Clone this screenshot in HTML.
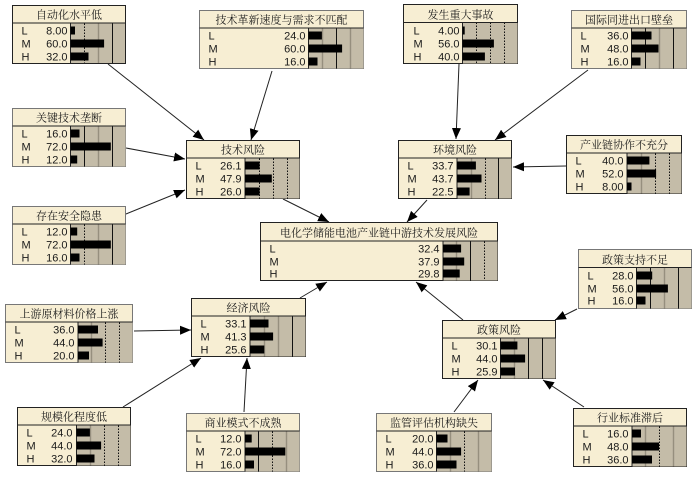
<!DOCTYPE html>
<html>
<head>
<meta charset="utf-8">
<style>
html,body{margin:0;padding:0;background:#fff;width:700px;height:479px;overflow:hidden}
svg{display:block}
.b{fill:#f7eed3;stroke:#222;stroke-width:1}
.f{stroke:#777}
.r{fill:#c4bca8}
.h{stroke:#222;stroke-width:1;fill:none}
.s{stroke:#111;stroke-width:1}
.d{stroke:#111;stroke-width:1;stroke-dasharray:1.5 1.5}
.g{stroke:#968f7e;stroke-width:1.4}
.k{fill:#000}
text{font-family:"Liberation Sans","Noto Sans CJK SC",sans-serif;font-size:11px;fill:#1a1a1a}
.t{text-anchor:middle;font-size:11px;font-family:"Liberation Serif","Noto Serif CJK SC",serif}
.n{text-anchor:end}
.a{stroke:#222;stroke-width:1;fill:none;marker-end:url(#ar)}
</style>
</head>
<body>
<svg width="700" height="479" viewBox="0 0 700 479" xmlns="http://www.w3.org/2000/svg">
<defs>
<marker id="ar" markerUnits="userSpaceOnUse" markerWidth="12" markerHeight="10" refX="11" refY="5" orient="auto">
<path d="M0 0.5L11 5L0 9.5Z" fill="#000"/>
</marker>
</defs>

<path class="a" d="M108 64L204 140"/>
<path class="a" d="M272 71L251 140"/>
<path class="a" d="M126 148L185 159"/>
<path class="a" d="M126 214L185 190"/>
<path class="a" d="M283 199L329 222"/>
<path class="a" d="M427 200L407 222"/>
<path class="a" d="M459 64L456 139"/>
<path class="a" d="M588 70L495 140"/>
<path class="a" d="M566 166L513 167"/>
<path class="a" d="M300 298L327 282"/>
<path class="a" d="M463 320L416 282"/>
<path class="a" d="M577 309L555 320"/>
<path class="a" d="M454 412L478 380"/>
<path class="a" d="M584 407L543 380"/>
<path class="a" d="M134 331L191 330"/>
<path class="a" d="M123 407L201 358"/>
<path class="a" d="M244 412L247 358"/>

<!-- 自动化水平低 -->
<g transform="translate(12.5,5.5)">
<rect class="b" width="113" height="58"/><rect class="r" x="58" y="18" width="55" height="40"/>
<path class="d" d="M72 18V58"/><path class="g" d="M86 18V58"/><path class="s" d="M100 18V58"/>
<path class="h" d="M0 17.5H113M58 18V58"/><rect class="b" style="fill:none" width="113" height="58"/>
<rect class="k" x="58" y="21" width="4.5" height="8"/><rect class="k" x="58" y="34" width="33.6" height="8"/><rect class="k" x="58" y="47" width="18" height="8"/>
<text class="t" x="56.5" y="13">自动化水平低</text>
<text x="9" y="29">L</text><text x="9" y="42">M</text><text x="9" y="55">H</text>
<text class="n" x="55" y="29">8.00</text><text class="n" x="55" y="42">60.0</text><text class="n" x="55" y="55">32.0</text>
</g>

<!-- 技术革新速度与需求不匹配 -->
<g transform="translate(199.5,10.5)">
<rect class="b f" width="164" height="58"/><rect class="r" x="109" y="18" width="55" height="40"/>
<path class="g" d="M123 18V58"/><path class="s" d="M137 18V58"/><path class="g" d="M151 18V58"/>
<path class="h" d="M0 17.5H164M109 18V58"/>
<rect class="k" x="109" y="21" width="13.4" height="8"/><rect class="k" x="109" y="34" width="33.6" height="8"/><rect class="k" x="109" y="47" width="9" height="8"/>
<text class="t" x="82" y="13">技术革新速度与需求不匹配</text>
<text x="9" y="29">L</text><text x="9" y="42">M</text><text x="9" y="55">H</text>
<text class="n" x="106" y="29">24.0</text><text class="n" x="106" y="42">60.0</text><text class="n" x="106" y="55">16.0</text>
</g>

<!-- 发生重大事故 -->
<g transform="translate(403.5,4.5)">
<rect class="b" width="114" height="59"/><rect class="r" x="59" y="18" width="55" height="41"/>
<path class="d" d="M73 18V59"/><path class="d" d="M87 18V59"/><path class="d" d="M101 18V59"/>
<path class="h" d="M0 18H114M59 18V59"/>
<rect class="k" x="59" y="22" width="2.2" height="8"/><rect class="k" x="59" y="35" width="31.4" height="8"/><rect class="k" x="59" y="48" width="22.4" height="8"/>
<text class="t" x="57" y="14">发生重大事故</text>
<text x="10" y="30">L</text><text x="10" y="43">M</text><text x="10" y="56">H</text>
<text class="n" x="56" y="30">4.00</text><text class="n" x="56" y="43">56.0</text><text class="n" x="56" y="56">40.0</text>
</g>

<!-- 国际同进出口壁垒 -->
<g transform="translate(571.5,10.5)">
<rect class="b f" width="115" height="58"/><rect class="r" x="60" y="18" width="55" height="40"/>
<path class="s" d="M74 18V58"/><path class="g" d="M88 18V58"/><path class="s" d="M102 18V58"/>
<path class="h" d="M0 17.5H115M60 18V58"/>
<rect class="k" x="60" y="21" width="20" height="8"/><rect class="k" x="60" y="34" width="27" height="8"/><rect class="k" x="60" y="47" width="9" height="8"/>
<text class="t" x="57.5" y="13">国际同进出口壁垒</text>
<text x="9" y="29">L</text><text x="9" y="42">M</text><text x="9" y="55">H</text>
<text class="n" x="57" y="29">36.0</text><text class="n" x="57" y="42">48.0</text><text class="n" x="57" y="55">16.0</text>
</g>

<!-- 关键技术垄断 -->
<g transform="translate(12.5,108.5)">
<rect class="b f" width="113" height="58"/><rect class="r" x="58" y="18" width="55" height="40"/>
<path class="s" d="M72 18V58"/><path class="g" d="M86 18V58"/><path class="s" d="M100 18V58"/>
<path class="h" d="M0 17.5H113M58 18V58"/>
<rect class="k" x="58" y="21" width="9" height="8"/><rect class="k" x="58" y="34" width="40.3" height="8"/><rect class="k" x="58" y="47" width="6.7" height="8"/>
<text class="t" x="56.5" y="13">关键技术垄断</text>
<text x="9" y="29">L</text><text x="9" y="42">M</text><text x="9" y="55">H</text>
<text class="n" x="55" y="29">16.0</text><text class="n" x="55" y="42">72.0</text><text class="n" x="55" y="55">12.0</text>
</g>

<!-- 技术风险 -->
<g transform="translate(186.5,140.5)">
<rect class="b" width="113" height="58"/><rect class="r" x="58.5" y="18" width="54.5" height="40"/>
<path class="d" d="M73 18V58"/><path class="d" d="M87 18V58"/><path class="d" d="M101 18V58"/>
<path class="h" d="M0 17.5H113M58.5 18V58"/>
<rect class="k" x="58.5" y="21" width="14.6" height="8"/><rect class="k" x="58.5" y="34" width="26.8" height="8"/><rect class="k" x="58.5" y="47" width="14.6" height="8"/>
<text class="t" x="56.5" y="13">技术风险</text>
<text x="9" y="29">L</text><text x="9" y="42">M</text><text x="9" y="55">H</text>
<text class="n" x="55" y="29">26.1</text><text class="n" x="55" y="42">47.9</text><text class="n" x="55" y="55">26.0</text>
</g>

<!-- 环境风险 -->
<g transform="translate(398.5,140.5)">
<rect class="b" width="113" height="58"/><rect class="r" x="58.5" y="18" width="54.5" height="40"/>
<path class="g" d="M73 18V58"/><path class="d" d="M87 18V58"/><path class="s" d="M100 18V58"/>
<path class="h" d="M0 17.5H113M58.5 18V58"/>
<rect class="k" x="58.5" y="21" width="18.9" height="8"/><rect class="k" x="58.5" y="34" width="24.5" height="8"/><rect class="k" x="58.5" y="47" width="12.6" height="8"/>
<text class="t" x="56.5" y="13">环境风险</text>
<text x="9" y="29">L</text><text x="9" y="42">M</text><text x="9" y="55">H</text>
<text class="n" x="55" y="29">33.7</text><text class="n" x="55" y="42">43.7</text><text class="n" x="55" y="55">22.5</text>
</g>

<!-- 产业链协作不充分 -->
<g transform="translate(566.5,135.5)">
<rect class="b" width="115" height="58"/><rect class="r" x="60.5" y="18" width="54.5" height="40"/>
<path class="g" d="M75 18V58"/><path class="d" d="M89 18V58"/><path class="d" d="M103 18V58"/>
<path class="h" d="M0 17.5H115M60.5 18V58"/>
<rect class="k" x="60.5" y="21" width="22.4" height="8"/><rect class="k" x="60.5" y="34" width="29.1" height="8"/><rect class="k" x="60.5" y="47" width="4.5" height="8"/>
<text class="t" x="57.5" y="13">产业链协作不充分</text>
<text x="9" y="29">L</text><text x="9" y="42">M</text><text x="9" y="55">H</text>
<text class="n" x="57" y="29">40.0</text><text class="n" x="57" y="42">52.0</text><text class="n" x="57" y="55">8.00</text>
</g>

<!-- 存在安全隐患 -->
<g transform="translate(12.5,206.5)">
<rect class="b f" width="113" height="58"/><rect class="r" x="58" y="18" width="55" height="40"/>
<path class="d" d="M72 18V58"/><path class="g" d="M86 18V58"/><path class="s" d="M100 18V58"/>
<path class="h" d="M0 17.5H113M58 18V58"/>
<rect class="k" x="58" y="21" width="6.7" height="8"/><rect class="k" x="58" y="34" width="40.3" height="8"/><rect class="k" x="58" y="47" width="9" height="8"/>
<text class="t" x="56.5" y="13">存在安全隐患</text>
<text x="9" y="29">L</text><text x="9" y="42">M</text><text x="9" y="55">H</text>
<text class="n" x="55" y="29">12.0</text><text class="n" x="55" y="42">72.0</text><text class="n" x="55" y="55">16.0</text>
</g>

<!-- 电化学储能电池产业链中游技术发展风险 -->
<g transform="translate(260.5,222.5)">
<rect class="b" width="237" height="58"/><rect class="r" x="182.5" y="19" width="54.5" height="39"/>
<path class="g" d="M196 19V58"/><path class="s" d="M210 19V58"/><path class="d" d="M224 19V58"/>
<path class="h" d="M0 18.5H237M182.5 19V58"/>
<rect class="k" x="182.5" y="22" width="18.1" height="8"/><rect class="k" x="182.5" y="35" width="21.2" height="8"/><rect class="k" x="182.5" y="47" width="16.7" height="8"/>
<text class="t" x="118.5" y="14">电化学储能电池产业链中游技术发展风险</text>
<text x="9" y="30">L</text><text x="9" y="43">M</text><text x="9" y="55">H</text>
<text class="n" x="179" y="30">32.4</text><text class="n" x="179" y="43">37.9</text><text class="n" x="179" y="55">29.8</text>
</g>

<!-- 政策支持不足 -->
<g transform="translate(578.5,249.5)">
<rect class="b f" width="113" height="59"/><rect class="r" x="58" y="18" width="55" height="41"/>
<path class="s" d="M72 18V59"/><path class="g" d="M86 18V59"/><path class="s" d="M100 18V59"/>
<path class="h" d="M0 18H113M58 18V59"/>
<rect class="k" x="58" y="22" width="15.7" height="8"/><rect class="k" x="58" y="35" width="31.4" height="8"/><rect class="k" x="58" y="47" width="9" height="8"/>
<text class="t" x="56.5" y="14">政策支持不足</text>
<text x="9" y="30">L</text><text x="9" y="43">M</text><text x="9" y="55">H</text>
<text class="n" x="55" y="30">28.0</text><text class="n" x="55" y="43">56.0</text><text class="n" x="55" y="55">16.0</text>
</g>

<!-- 上游原材料价格上涨 -->
<g transform="translate(5.5,304.5)">
<rect class="b f" width="127" height="58"/><rect class="r" x="72.5" y="18" width="54.5" height="40"/>
<path class="g" d="M86 18V58"/><path class="d" d="M100 18V58"/><path class="d" d="M114 18V58"/>
<path class="h" d="M0 17.5H127M72.5 18V58"/>
<rect class="k" x="72.5" y="21" width="20" height="8"/><rect class="k" x="72.5" y="34" width="24.6" height="8"/><rect class="k" x="72.5" y="47" width="11" height="8"/>
<text class="t" x="63.5" y="13">上游原材料价格上涨</text>
<text x="9" y="29">L</text><text x="9" y="42">M</text><text x="9" y="55">H</text>
<text class="n" x="69" y="29">36.0</text><text class="n" x="69" y="42">44.0</text><text class="n" x="69" y="55">20.0</text>
</g>

<!-- 经济风险 -->
<g transform="translate(191.5,298.5)">
<rect class="b" width="114" height="58"/><rect class="r" x="58.5" y="18" width="55.5" height="40"/>
<path class="g" d="M73 18V58"/><path class="g" d="M87 18V58"/><path class="s" d="M101 18V58"/>
<path class="h" d="M0 17.5H114M58.5 18V58"/>
<rect class="k" x="58.5" y="21" width="18.5" height="8"/><rect class="k" x="58.5" y="34" width="23.1" height="8"/><rect class="k" x="58.5" y="47" width="14.3" height="8"/>
<text class="t" x="57" y="13">经济风险</text>
<text x="9" y="29">L</text><text x="9" y="42">M</text><text x="9" y="55">H</text>
<text class="n" x="55" y="29">33.1</text><text class="n" x="55" y="42">41.3</text><text class="n" x="55" y="55">25.6</text>
</g>

<!-- 政策风险 -->
<g transform="translate(442.5,320.5)">
<rect class="b" width="113" height="58"/><rect class="r" x="58" y="18" width="55" height="40"/>
<path class="g" d="M72 18V58"/><path class="s" d="M86 18V58"/><path class="s" d="M100 18V58"/>
<path class="h" d="M0 17.5H113M58 18V58"/>
<rect class="k" x="58" y="21" width="16.9" height="8"/><rect class="k" x="58" y="34" width="24.6" height="8"/><rect class="k" x="58" y="47" width="14.5" height="8"/>
<text class="t" x="56.5" y="13">政策风险</text>
<text x="9" y="29">L</text><text x="9" y="42">M</text><text x="9" y="55">H</text>
<text class="n" x="55" y="29">30.1</text><text class="n" x="55" y="42">44.0</text><text class="n" x="55" y="55">25.9</text>
</g>

<!-- 规模化程度低 -->
<g transform="translate(17.5,407.5)">
<rect class="b" width="113" height="58"/><rect class="r" x="59" y="18" width="54" height="40"/>
<path class="g" d="M73 18V58"/><path class="d" d="M87 18V58"/><path class="d" d="M101 18V58"/>
<path class="h" d="M0 17.5H113M59 18V58"/>
<rect class="k" x="59" y="21" width="13.4" height="8"/><rect class="k" x="59" y="34" width="24.6" height="8"/><rect class="k" x="59" y="47" width="18" height="8"/>
<text class="t" x="56.5" y="13">规模化程度低</text>
<text x="9" y="29">L</text><text x="9" y="42">M</text><text x="9" y="55">H</text>
<text class="n" x="55" y="29">24.0</text><text class="n" x="55" y="42">44.0</text><text class="n" x="55" y="55">32.0</text>
</g>

<!-- 商业模式不成熟 -->
<g transform="translate(186.5,413.5)">
<rect class="b f" width="113" height="58"/><rect class="r" x="58.5" y="18" width="54.5" height="40"/>
<path class="s" d="M72 18V58"/><path class="d" d="M86 18V58"/><path class="g" d="M100 18V58"/>
<path class="h" d="M0 17.5H113M58.5 18V58"/>
<rect class="k" x="58.5" y="21" width="6.7" height="8"/><rect class="k" x="58.5" y="34" width="40.3" height="8"/><rect class="k" x="58.5" y="47" width="9" height="8"/>
<text class="t" x="56.5" y="13">商业模式不成熟</text>
<text x="9" y="29">L</text><text x="9" y="42">M</text><text x="9" y="55">H</text>
<text class="n" x="55" y="29">12.0</text><text class="n" x="55" y="42">72.0</text><text class="n" x="55" y="55">16.0</text>
</g>

<!-- 监管评估机构缺失 -->
<g transform="translate(376.5,413.5)">
<rect class="b f" width="115" height="58"/><rect class="r" x="60" y="18" width="55" height="40"/>
<path class="g" d="M74 18V58"/><path class="d" d="M88 18V58"/><path class="g" d="M102 18V58"/>
<path class="h" d="M0 17.5H115M60 18V58"/>
<rect class="k" x="60" y="21" width="11" height="8"/><rect class="k" x="60" y="34" width="24.6" height="8"/><rect class="k" x="60" y="47" width="20" height="8"/>
<text class="t" x="57.5" y="13">监管评估机构缺失</text>
<text x="9" y="29">L</text><text x="9" y="42">M</text><text x="9" y="55">H</text>
<text class="n" x="57" y="29">20.0</text><text class="n" x="57" y="42">44.0</text><text class="n" x="57" y="55">36.0</text>
</g>

<!-- 行业标准滞后 -->
<g transform="translate(573.5,408.5)">
<rect class="b" width="113" height="58"/><rect class="r" x="58.5" y="18" width="54.5" height="40"/>
<path class="g" d="M72 18V58"/><path class="d" d="M86 18V58"/><path class="g" d="M100 18V58"/>
<path class="h" d="M0 17.5H113M58.5 18V58"/>
<rect class="k" x="58.5" y="21" width="9" height="8"/><rect class="k" x="58.5" y="34" width="27" height="8"/><rect class="k" x="58.5" y="47" width="20" height="8"/>
<text class="t" x="56.5" y="13">行业标准滞后</text>
<text x="9" y="29">L</text><text x="9" y="42">M</text><text x="9" y="55">H</text>
<text class="n" x="55" y="29">16.0</text><text class="n" x="55" y="42">48.0</text><text class="n" x="55" y="55">36.0</text>
</g>
</svg>
</body>
</html>
